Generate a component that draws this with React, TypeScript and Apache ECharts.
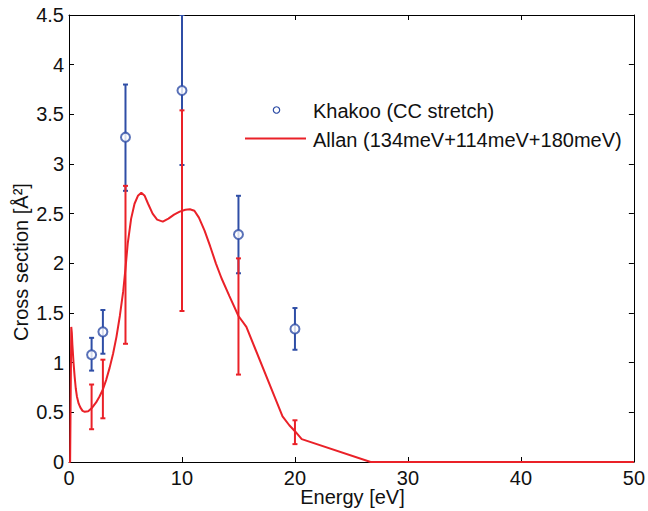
import React, { useEffect, useRef } from "react";
import * as echarts from "echarts";

// ---- Data ----
const khakooX = [2, 3, 5, 10, 15, 20];
const khakooY = [1.08, 1.31, 3.27, 3.74, 2.29, 1.34];
const khakooLow = [0.92, 1.09, 2.73, 2.99, 1.9, 1.13];
const khakooHigh = [1.25, 1.53, 3.8, 4.5, 2.68, 1.55];

const allanErrX = [2, 3, 5, 10, 15, 20];
const allanLow = [0.33, 0.44, 1.19, 1.52, 0.88, 0.18];
const allanHigh = [0.78, 1.03, 2.78, 3.54, 2.05, 0.42];

const allanCurveX = [
  0, 0.1, 0.2, 0.25, 0.3, 0.4, 0.5, 0.6, 0.7, 0.85, 1.0, 1.2, 1.4, 1.7, 2.0, 2.4, 2.7, 3.0,
  3.3, 3.6, 3.9, 4.2, 4.5, 4.8, 5.0, 5.2, 5.5, 5.8, 6.1, 6.4, 6.7, 7.0, 7.4, 7.8, 8.3, 8.8,
  9.3, 9.8, 10.3, 10.7, 11.1, 11.5, 12.0, 12.5, 13.0, 13.5, 14.2, 15.0, 15.7, 18.9, 19.5,
  20.0, 20.6, 26.7, 50,
];
const allanCurveY = [
  0, 0, 1.36, 1.3, 1.18, 1.0, 0.86, 0.74, 0.66, 0.59, 0.55, 0.515, 0.505, 0.51, 0.54, 0.6,
  0.66, 0.73, 0.83, 0.95, 1.09, 1.26, 1.47, 1.72, 1.95, 2.2, 2.45, 2.6, 2.68, 2.71, 2.68,
  2.6, 2.5, 2.44, 2.42, 2.45, 2.49, 2.52, 2.54, 2.545, 2.53, 2.46, 2.33, 2.17, 2.0, 1.85,
  1.67, 1.47, 1.36, 0.46, 0.37, 0.31, 0.23, 0, 0,
];

const seriesNames = ["Khakoo (CC stretch)", "Allan (134meV+114meV+180meV)"];
const xAxisTitle = "Energy [eV]";
const yAxisTitle = "Cross section [Å²]";

const X_MIN = 0, X_MAX = 50, X_STEP = 10;
const Y_MIN = 0, Y_MAX = 4.5, Y_STEP = 0.5;

const BLUE = "#2f4ea6";
const RED = "#ea2128";
const FONT = "Liberation Sans";

function errorBar(color: string, capHalf: number, lw: number) {
  return (_params: any, api: any) => {
    const x = api.value(0);
    const lo = api.value(1);
    const hi = api.value(2);
    const pLo = api.coord([x, lo]);
    const pHi = api.coord([x, hi]);
    const style = { stroke: color, lineWidth: lw };
    return {
      type: "group",
      children: [
        { type: "line", shape: { x1: pLo[0], y1: pLo[1], x2: pHi[0], y2: pHi[1] }, style },
        { type: "line", shape: { x1: pLo[0] - capHalf, y1: pLo[1], x2: pLo[0] + capHalf, y2: pLo[1] }, style },
        { type: "line", shape: { x1: pHi[0] - capHalf, y1: pHi[1], x2: pHi[0] + capHalf, y2: pHi[1] }, style },
      ],
    };
  };
}

export default function App() {
  const ref = useRef<HTMLDivElement>(null);
  useEffect(() => {
    if (!ref.current) return;
    const chart = echarts.init(ref.current, null, { renderer: "svg" });
    const axisCommon = {
      axisLine: { show: true, onZero: false, lineStyle: { color: "#000", width: 1 } },
      axisTick: { show: true, inside: true, length: 5, lineStyle: { color: "#000", width: 1 } },
      splitLine: { show: false },
    };
    const labelStyle = { color: "#111", fontFamily: FONT, fontSize: 20 };
    chart.setOption({
      animation: false,
      backgroundColor: "#fff",
      grid: { left: 69, right: 12, top: 15, bottom: 49 },
      xAxis: [
        {
          type: "value", min: X_MIN, max: X_MAX, interval: X_STEP, position: "bottom",
          ...axisCommon,
          axisLabel: { ...labelStyle, margin: 6 },
        },
        {
          type: "value", min: X_MIN, max: X_MAX, interval: X_STEP, position: "top",
          ...axisCommon,
          axisLabel: { show: false },
        },
      ],
      yAxis: [
        {
          type: "value", min: Y_MIN, max: Y_MAX, interval: Y_STEP, position: "left",
          ...axisCommon,
          axisLabel: { ...labelStyle, margin: 5 },
        },
        {
          type: "value", min: Y_MIN, max: Y_MAX, interval: Y_STEP, position: "right",
          ...axisCommon,
          axisLabel: { show: false },
        },
      ],
      series: [
        {
          type: "custom",
          name: seriesNames[0] + " err",
          xAxisIndex: 0, yAxisIndex: 0,
          z: 1,
          clip: true,
          renderItem: errorBar(BLUE, 2.5, 2),
          encode: { x: 0, y: [1, 2] },
          data: khakooX.map((x, i) => [x, khakooLow[i], khakooHigh[i]]),
        },
        {
          type: "custom",
          name: seriesNames[1] + " err",
          xAxisIndex: 0, yAxisIndex: 0,
          z: 2,
          clip: true,
          renderItem: errorBar(RED, 2.5, 2),
          encode: { x: 0, y: [1, 2] },
          data: allanErrX.map((x, i) => [x, allanLow[i], allanHigh[i]]),
        },
        {
          type: "line",
          name: seriesNames[1],
          xAxisIndex: 0, yAxisIndex: 0,
          z: 3,
          showSymbol: false,
          symbol: "none",
          smooth: false,
          lineStyle: { color: RED, width: 2 },
          data: allanCurveX.map((x, i) => [x, allanCurveY[i]]),
        },
        {
          type: "scatter",
          name: seriesNames[0],
          xAxisIndex: 0, yAxisIndex: 0,
          z: 4,
          symbol: "circle",
          symbolSize: 9,
          itemStyle: { color: "#fff", borderColor: BLUE, borderWidth: 2 },
          data: khakooX.map((x, i) => [x, khakooY[i]]),
        },
      ],
      graphic: [
        {
          type: "circle",
          shape: { cx: 276.5, cy: 110, r: 3.2 },
          style: { fill: "#fff", stroke: BLUE, lineWidth: 1.2 },
        },
        {
          type: "text",
          x: 313, y: 111,
          style: { text: seriesNames[0], fill: "#111", font: `20px "${FONT}"`, textVerticalAlign: "middle", textAlign: "left" },
        },
        {
          type: "line",
          shape: { x1: 245, y1: 138.5, x2: 306, y2: 138.5 },
          style: { stroke: RED, lineWidth: 2 },
        },
        {
          type: "text",
          x: 313, y: 140,
          style: { text: seriesNames[1], fill: "#111", font: `20px "${FONT}"`, textVerticalAlign: "middle", textAlign: "left" },
        },
        {
          type: "text",
          x: 352.5, y: 497,
          style: { text: xAxisTitle, fill: "#111", font: `20px "${FONT}"`, textVerticalAlign: "middle", textAlign: "center" },
        },
        {
          type: "text",
          x: 21, y: 262,
          rotation: Math.PI / 2,
          style: { text: yAxisTitle, fill: "#111", font: `20px "${FONT}"`, textVerticalAlign: "middle", textAlign: "center" },
        },
      ],
    });
    return () => chart.dispose();
  }, []);
  return (
    <div
      ref={ref}
      style={{ position: "fixed", left: 0, top: 0, width: 648, height: 511, background: "#fff" }}
    />
  );
}
